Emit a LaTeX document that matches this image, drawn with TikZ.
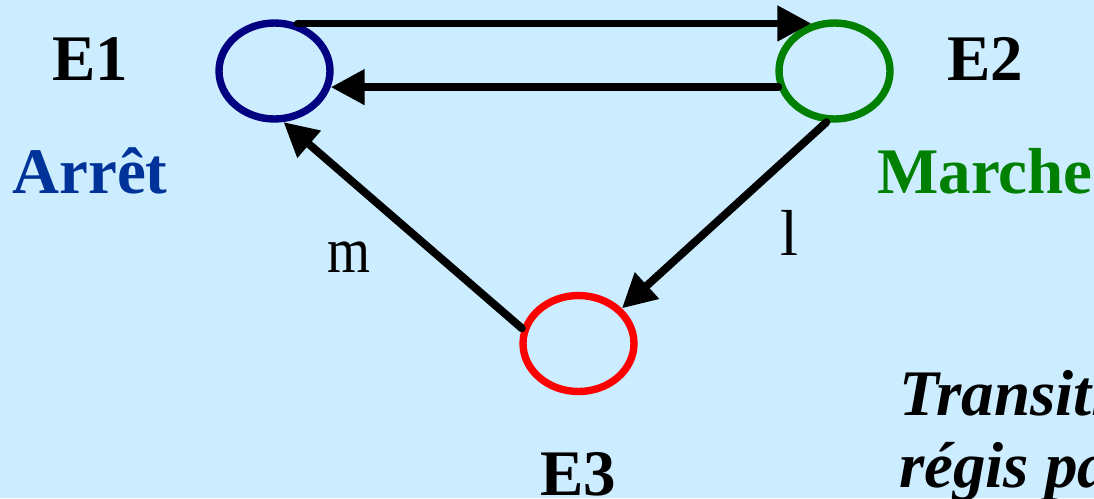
\documentclass[tikz,border=0pt]{standalone}
\usepackage{fontspec}
\setmainfont{Liberation Serif}
\usetikzlibrary{shapes.geometric,arrows.meta}
\definecolor{fond}{RGB}{204,236,255}
\definecolor{bleuarret}{RGB}{0,51,153}
\definecolor{vertmarche}{RGB}{0,128,0}
\definecolor{marine}{RGB}{0,0,128}
\begin{document}
\begin{tikzpicture}[x=0.02cm,y=-0.02cm,
  etat/.style={draw, ellipse, line width=4.2pt, minimum width=2.22cm, minimum height=1.92cm, outer sep=2.1pt},
  fleche/.style={-{Triangle[length=0.68cm,width=0.68cm]}, line width=4.5pt, line cap=round},
  txt/.style={anchor=base, font=\fontsize{37}{44}\selectfont\bfseries}]
\fill[fond] (0,0) rectangle (1094,498);
\useasboundingbox (0,0) rectangle (1094,498);
\clip (0,0) rectangle (1094,498);
\node[etat, marine] (e1) at (274.5,71) {};
\node[etat, vertmarche] (e2) at (834.5,71) {};
\node[etat, red] (e3) at (578.5,343.5) {};

\node[txt] (t1) at (90,80) {E1};
\node[txt, bleuarret] (arret) at (90,193) {Arrêt};
\node[txt] (t2) at (985,80) {E2};
\node[txt, vertmarche] (marche) at (985,193) {Marche};
\node[txt] (t3) at (578,495) {E3};
\node[txt, xscale=0.85, font=\fontsize{37}{44}\selectfont] (m) at (349,272) {m};
\node[txt, font=\fontsize{37}{44}\selectfont] (l) at (790,255) {l};
\node[txt, anchor=base west, font=\fontsize{37}{44}\selectfont\bfseries\itshape] (trans) at (893,415) {Transitions};
\node[txt, anchor=base west, font=\fontsize{37}{44}\selectfont\bfseries\itshape] (regis) at (893,487) {régis par};

\draw[fleche] (e1.64) -- (e2.116);
\draw[fleche] (e2.196) -- (e1.-16);
\draw[fleche] (e2.261) -- (e3.39);
\draw[fleche] (e3.165) -- (e1.280);
\end{tikzpicture}
\end{document}
